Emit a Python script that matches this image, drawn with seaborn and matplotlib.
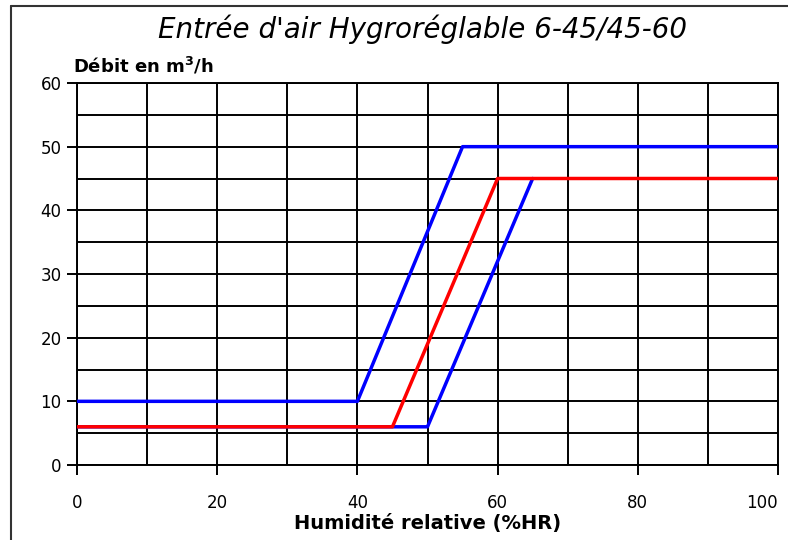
import numpy as np
import pandas as pd
import matplotlib
matplotlib.use('Agg')
import matplotlib.pyplot as plt
import seaborn as sns
from matplotlib.lines import Line2D

# humidity (%HR) / flow (m3/h) break points
hr_high = [0, 40, 55, 100]
debit_high = [10, 10, 50, 50]
hr_low = [0, 50, 65]
debit_low = [6, 6, 45]
hr_nom = [0, 45, 60, 100]
debit_nom = [6, 6, 45, 45]

sns.set_style('white')
plt.rcParams['font.family'] = ['DejaVu Sans']
plt.rcParams['text.color'] = 'black'
plt.rcParams['xtick.color'] = 'black'
plt.rcParams['ytick.color'] = 'black'
plt.rcParams['axes.labelcolor'] = 'black'

fig = plt.figure(figsize=(7.88, 5.4), dpi=100)
ax = fig.add_axes([77 / 788, 1 - 465 / 540, 701 / 788, 382 / 540])

sns.lineplot(x=hr_high, y=debit_high, color='#0000ff', lw=2.5, ax=ax, sort=False, zorder=3)
sns.lineplot(x=hr_low, y=debit_low, color='#0000ff', lw=2.5, ax=ax, sort=False, zorder=3)
sns.lineplot(x=hr_nom, y=debit_nom, color='#ff0000', lw=2.5, ax=ax, sort=False, zorder=4)

ax.set_xlim(0, 100)
ax.set_ylim(0, 60)
ax.set_xticks(np.arange(0, 101, 20))
ax.set_yticks(np.arange(0, 61, 10))
ax.set_xticks(np.arange(0, 101, 10), minor=True)
ax.set_yticks(np.arange(0, 61, 5), minor=True)
ax.grid(True, which='both', color='black', lw=1.4)
ax.tick_params(which='major', direction='out', length=7, width=1.4,
               labelsize=12, pad=4, bottom=True, left=True)
ax.tick_params(axis='x', which='major', pad=14)
ax.tick_params(which='minor', length=0)
for s in ax.spines.values():
    s.set_color('black')
    s.set_linewidth(1.4)
ax.get_xticklabels()[-1].set_horizontalalignment('right')
ax.set_xlabel('Humidité relative (%HR)', fontsize=14, fontweight='bold', labelpad=1)
ax.set_ylabel('')

fig.text(73 / 788, 1 - 66 / 540, 'Débit en m$^{\\mathbf{3}}$/h', fontsize=13,
         fontweight='bold', ha='left', va='center')
fig.text(423 / 788, 1 - 29 / 540, "Entrée d'air Hygroréglable 6-45/45-60",
         fontsize=20, style='italic', ha='center', va='center')

# frame of the picture (left and top edges)
fig.add_artist(Line2D([11 / 788, 11 / 788], [0, 1 - 6 / 540], transform=fig.transFigure,
                      color='#333333', lw=1.5))
fig.add_artist(Line2D([11 / 788, 1], [1 - 6 / 540, 1 - 6 / 540], transform=fig.transFigure,
                      color='#333333', lw=1.5))

fig.savefig('out.png', dpi=100)
